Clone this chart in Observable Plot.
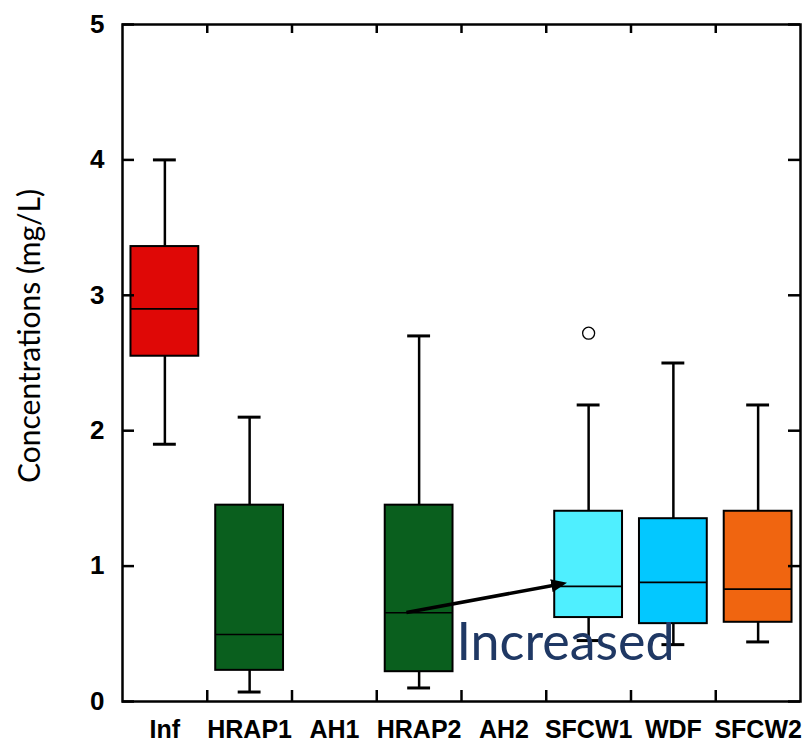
<!DOCTYPE html>
<html>
<head>
<meta charset="utf-8">
<script src="https://cdn.jsdelivr.net/npm/d3@7"></script>
<script src="https://cdn.jsdelivr.net/npm/@observablehq/plot@0.6"></script>
<style>
  html, body { margin: 0; padding: 0; background: #fff; }
  #chart svg { display: block; }
</style>
</head>
<body>
<div id="chart"></div>
<script>
// ---- data ----
const categories = ["Inf", "HRAP1", "AH1", "HRAP2", "AH2", "SFCW1", "WDF", "SFCW2"];
const whiskerLow  = [1.90, 0.07, null, 0.10, null, 0.45, 0.42, 0.44];
const q1Values    = [2.55, 0.23, null, 0.22, null, 0.62, 0.575, 0.585];
const medians     = [2.90, 0.495, null, 0.655, null, 0.85, 0.88, 0.83];
const q3Values    = [3.36, 1.45, null, 1.45, null, 1.405, 1.35, 1.405];
const whiskerHigh = [4.00, 2.10, null, 2.70, null, 2.19, 2.50, 2.19];
const boxColors   = ["#DF0806", "#0A5F1E", null, "#0A5F1E", null, "#4FEFFF", "#03C8FF", "#F06510"];
const outlierCats   = ["SFCW1"];
const outlierValues = [2.72];
const yTickValues = [0, 1, 2, 3, 4, 5];
const yLabel = "Concentrations (mg/L)";
// annotation: arrow from HRAP2 median region to SFCW1 median region (x in category-index units)
const arrowFrom = {x: 2.85, y: 0.657};
const arrowTo   = {x: 4.69, y: 0.87};
const noteText = "Increased";
const notePos = {x: 3.44, y: 0.31};

// ---- build table ----
const boxes = categories.map((c, i) => ({
  cat: c, i,
  lo: whiskerLow[i], q1: q1Values[i], med: medians[i], q3: q3Values[i], hi: whiskerHigh[i],
  color: boxColors[i]
})).filter(d => d.med != null);
const outliers = outlierCats.map((c, k) => ({i: categories.indexOf(c), v: outlierValues[k]}));
const bounds = categories.slice(1).map((_, k) => k + 0.5);

const half = 0.4;     // box half-width in category units
const capHalf = 0.135; // whisker cap half-width

const W = 807, H = 748;
const mL = 122, mR = 7, mT = 24, mB = 47;
const innerW = W - mL - mR, innerH = H - mT - mB;

// filled triangular arrow head marker
function filledHead(color) {
  const ns = "http://www.w3.org/2000/svg";
  const m = document.createElementNS(ns, "marker");
  m.setAttribute("viewBox", "-5 -5 10 10");
  m.setAttribute("markerWidth", 4.4);
  m.setAttribute("markerHeight", 4.4);
  m.setAttribute("refX", 2);
  m.setAttribute("refY", 0);
  m.setAttribute("orient", "auto");
  const p = document.createElementNS(ns, "path");
  p.setAttribute("d", "M-5,-4.2L5,0L-5,4.2Z");
  p.setAttribute("fill", color);
  p.setAttribute("stroke", "none");
  m.appendChild(p);
  return m;
}

const plot = Plot.plot({
  width: W, height: H,
  marginLeft: mL, marginRight: mR, marginTop: mT, marginBottom: mB,
  style: {background: "#fff", color: "#000"},
  x: {type: "linear", domain: [-0.5, categories.length - 0.5], axis: null},
  y: {domain: [0, 5], axis: null},
  marks: [
    // whiskers
    Plot.ruleX(boxes, {x: "i", y1: "q3", y2: "hi", stroke: "#000", strokeWidth: 2.5}),
    Plot.ruleX(boxes, {x: "i", y1: "lo", y2: "q1", stroke: "#000", strokeWidth: 2.5}),
    // caps
    Plot.ruleY(boxes, {y: "hi", x1: d => d.i - capHalf, x2: d => d.i + capHalf, stroke: "#000", strokeWidth: 3}),
    Plot.ruleY(boxes, {y: "lo", x1: d => d.i - capHalf, x2: d => d.i + capHalf, stroke: "#000", strokeWidth: 3}),
    // boxes
    Plot.rect(boxes, {x1: d => d.i - half, x2: d => d.i + half, y1: "q1", y2: "q3",
      fill: d => d.color, stroke: "#000", strokeWidth: 2}),
    // medians
    Plot.ruleY(boxes, {y: "med", x1: d => d.i - half, x2: d => d.i + half, stroke: "#000", strokeWidth: 1.6}),
    // outliers
    Plot.dot(outliers, {x: "i", y: "v", r: 6, stroke: "#000", strokeWidth: 1.3, fill: "none"}),
    // annotation arrow
    Plot.link([{}], {x1: () => arrowFrom.x, y1: () => arrowFrom.y, x2: () => arrowTo.x, y2: () => arrowTo.y,
      stroke: "#000", strokeWidth: 3.6, markerEnd: filledHead}),
    Plot.text([noteText], {x: () => notePos.x, y: () => notePos.y, text: d => d,
      textAnchor: "start", lineAnchor: "bottom", fontFamily: "Lato", fontSize: 52, fill: "#1F3864"}),
    // frame
    Plot.frame({stroke: "#000", strokeWidth: 2.5}),
    // inward y ticks (left and right)
    Plot.tickY(yTickValues, {y: d => d, insetRight: innerW - 12, stroke: "#000", strokeWidth: 2.5}),
    Plot.tickY(yTickValues, {y: d => d, insetLeft: innerW - 12, stroke: "#000", strokeWidth: 2.5}),
    // inward x ticks at category boundaries (bottom and top)
    Plot.tickX(bounds, {x: d => d, insetTop: innerH - 11, stroke: "#000", strokeWidth: 2.5}),
    Plot.tickX(bounds, {x: d => d, insetBottom: innerH - 9, stroke: "#000", strokeWidth: 2.5}),
    // axes labels
    Plot.axisY(yTickValues, {anchor: "left", tickSize: 0, tickPadding: 18, tickFormat: d => String(d),
      fontSize: 26, fontWeight: "bold", fontFamily: "Liberation Sans, Arial, sans-serif", label: null}),
    Plot.axisX(categories.map((_, i) => i), {anchor: "bottom", tickSize: 0, tickPadding: 19,
      tickFormat: i => categories[i], fontSize: 25, fontWeight: "bold", letterSpacing: 0.4,
      fontFamily: "Liberation Sans, Arial, sans-serif", label: null}),
    Plot.text([yLabel], {frameAnchor: "left", text: d => d, rotate: -90, dx: -92, dy: -27,
      textAnchor: "middle", lineAnchor: "middle",
      fontFamily: "Lato", fontSize: 30, fill: "#000"})
  ]
});
document.getElementById("chart").appendChild(plot);
</script>
</body>
</html>
